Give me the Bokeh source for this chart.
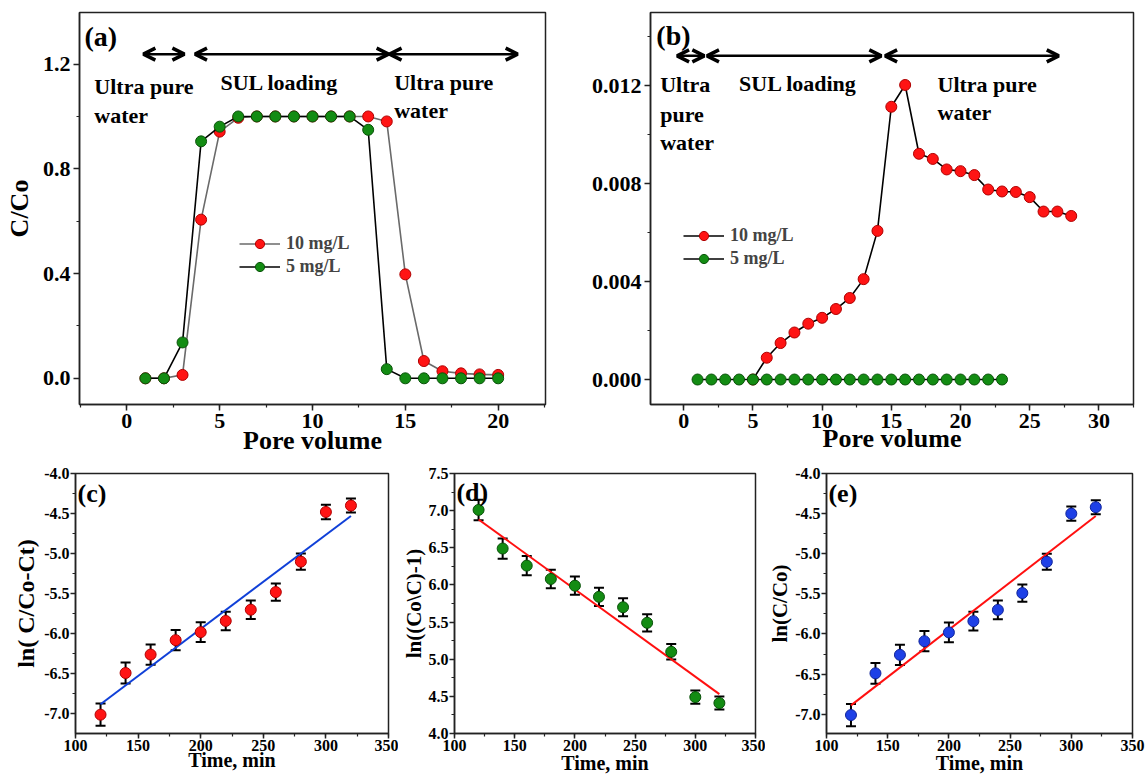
from bokeh.plotting import figure
from bokeh.layouts import row, column
from bokeh.models import (Range1d, Label, Arrow, OpenHead, TeeHead, Legend, LegendItem,
                          Whisker, ColumnDataSource, SingleIntervalTicker, NumeralTickFormatter)
from bokeh.embed import file_html
from bokeh.resources import INLINE

FONT = "Liberation Serif"

# ---------------- data ----------------
pore_a = [1, 2, 3, 4, 5, 6, 7, 8, 9, 10, 11, 12, 13, 14, 15, 16, 17, 18, 19, 20]
a_10mg = [0.0, 0.0, 0.013, 0.606, 0.942, 0.995, 1.0, 1.0, 1.0, 1.0, 1.0, 1.0, 1.0, 0.981,
          0.397, 0.066, 0.027, 0.019, 0.015, 0.013]
a_5mg = [0.0, 0.0, 0.137, 0.905, 0.961, 1.0, 1.0, 1.0, 1.0, 1.0, 1.0, 1.0, 0.949, 0.035,
         0.0, 0.0, 0.0, 0.0, 0.0, 0.0]

pore_b_10 = [5, 6, 7, 8, 9, 10, 11, 12, 13, 14, 15, 16, 17, 18, 19, 20, 21, 22, 23, 24, 25, 26, 27, 28]
b_10mg = [0.0, 0.00089, 0.00149, 0.00192, 0.00228, 0.00252, 0.00288, 0.00333, 0.00410, 0.00607,
          0.01114, 0.01203, 0.00922, 0.00901, 0.00858, 0.00851, 0.00835, 0.00776, 0.00768,
          0.00766, 0.00745, 0.00686, 0.00686, 0.00668]
pore_b_5 = [1, 2, 3, 4, 5, 6, 7, 8, 9, 10, 11, 12, 13, 14, 15, 16, 17, 18, 19, 20, 21, 22, 23]
b_5mg = [0.0, 0.0, 0.0, 0.0, 0.0, 0.0, 0.0, 0.0, 0.0, 0.0, 0.0, 0.0, 0.0, 0.0, 0.0, 0.0,
         0.0, 0.0, 0.0, 0.0, 0.0, 0.0, 0.0]

time_min = [120, 140, 160, 180, 200, 220, 240, 260, 280, 300, 320]
c_val = [-7.01, -6.49, -6.26, -6.08, -5.98, -5.84, -5.70, -5.48, -5.10, -4.48, -4.40]
c_err = [0.139, 0.13, 0.126, 0.126, 0.122, 0.116, 0.116, 0.108, 0.10, 0.09, 0.088]
d_val = [7.01, 6.49, 6.26, 6.08, 5.99, 5.84, 5.70, 5.49, 5.10, 4.49, 4.41]
d_err = [0.138, 0.136, 0.13, 0.125, 0.123, 0.123, 0.12, 0.116, 0.105, 0.09, 0.088]
e_val = [-7.01, -6.49, -6.26, -6.09, -5.98, -5.84, -5.70, -5.49, -5.10, -4.50, -4.42]
e_err = [0.139, 0.13, 0.126, 0.126, 0.122, 0.116, 0.116, 0.108, 0.10, 0.09, 0.088]

fit_time = [120, 320]
c_fit = [-6.88, -4.53]
d_fit = [6.88, 4.53]
e_fit = [-6.89, -4.53]

RED, RED_EDGE = "#ff1414", "#b00000"
GREEN, GREEN_EDGE = "#138c13", "#0a520a"
BLUE, BLUE_EDGE = "#1e40e6", "#10249a"


def make_fig(w, h, bl, br, bt, bb, xr, yr, xint, yint, yfmt, tick_px,
             tick_out=6, lab_standoff=3):
    p = figure(width=w, height=h, x_range=Range1d(*xr), y_range=Range1d(*yr),
               output_backend="svg", toolbar_location=None,
               min_border_left=bl, min_border_right=br, min_border_top=bt, min_border_bottom=bb)
    p.xgrid.visible = False
    p.ygrid.visible = False
    p.outline_line_color = "#222222"
    p.outline_line_width = 1.5
    p.background_fill_color = "white"
    p.border_fill_color = "white"
    p.xaxis[0].ticker = SingleIntervalTicker(interval=xint, num_minor_ticks=2)
    p.yaxis[0].ticker = SingleIntervalTicker(interval=yint, num_minor_ticks=2)
    p.yaxis[0].formatter = NumeralTickFormatter(format=yfmt)
    p.xaxis[0].formatter = NumeralTickFormatter(format="0")
    for ax in (p.xaxis[0], p.yaxis[0]):
        ax.axis_line_color = "#222222"
        ax.axis_line_width = 1.5
        ax.major_tick_line_color = "#222222"
        ax.minor_tick_line_color = "#222222"
        ax.major_tick_line_width = 1.5
        ax.minor_tick_line_width = 1.2
        ax.major_tick_in = 0
        ax.major_tick_out = tick_out
        ax.minor_tick_in = 0
        ax.minor_tick_out = 3
        ax.major_label_text_font = FONT
        ax.major_label_text_font_style = "bold"
        ax.major_label_text_font_size = f"{tick_px}px"
        ax.major_label_text_color = "black"
        ax.major_label_standoff = lab_standoff
        ax.axis_label_text_font = FONT
        ax.axis_label_text_font_style = "bold"
        ax.axis_label_text_color = "black"
    return p


def add_text(p, x, y, txt, size, baseline="alphabetic"):
    p.add_layout(Label(x=x, y=y, text=txt, text_font=FONT, text_font_style="bold",
                       text_font_size=f"{size}px", text_color="black", text_baseline=baseline))


def add_arrow(p, x0, x1, y):
    p.add_layout(Arrow(x_start=x0, y_start=y, x_end=x1, y_end=y, line_width=2.5, line_color="black",
                       start=OpenHead(size=12, line_width=3.5, line_color="black"),
                       end=OpenHead(size=12, line_width=3.5, line_color="black")))


def style_legend(leg, x, y, gw):
    leg.location = (x, y)
    leg.margin = 0
    leg.padding = 0
    leg.spacing = 0
    leg.glyph_width = gw
    leg.glyph_height = 23
    leg.label_height = 23
    leg.label_standoff = 6
    leg.label_text_font = FONT
    leg.label_text_font_style = "bold"
    leg.label_text_font_size = "18px"
    leg.border_line_alpha = 0
    leg.background_fill_alpha = 0


TOP_H = 461
BOT_H = 780 - TOP_H

# ---------------- panel (a) ----------------
pa = make_fig(572, TOP_H, 79, 27, 12, 57, (-2.55, 22.55), (-0.1, 1.397), 5, 0.4, "0.0", 22)
pa.xaxis.axis_label = "Pore volume"
pa.yaxis.axis_label = "C/Co"
pa.xaxis.axis_label_text_font_size = "26px"
pa.yaxis.axis_label_text_font_size = "26px"
pa.xaxis.axis_label_standoff = -5
pa.yaxis.axis_label_standoff = 6
ra_l = pa.line(pore_a, a_10mg, line_color="#6a6a6a", line_width=1.6)
ra_p = pa.scatter(pore_a, a_10mg, size=11, fill_color=RED, line_color=RED_EDGE, line_width=1)
ga_l = pa.line(pore_a, a_5mg, line_color="black", line_width=1.6)
ga_p = pa.scatter(pore_a, a_5mg, size=11, fill_color=GREEN, line_color=GREEN_EDGE, line_width=1)
leg_a = Legend(items=[LegendItem(label="10 mg/L", renderers=[ra_l, ra_p]),
                      LegendItem(label="5 mg/L", renderers=[ga_l, ga_p])])
style_legend(leg_a, 160, 126, 41)
pa.add_layout(leg_a)
add_text(pa, -2.28, 1.365, "(a)", 28, "top")
add_arrow(pa, 0.89, 3.1, 1.238)
add_arrow(pa, 3.67, 14.1, 1.238)
add_arrow(pa, 14.15, 21.05, 1.238)
add_text(pa, -1.75, 1.1135, "Ultra pure", 22)
add_text(pa, -1.75, 1.003, "water", 22)
add_text(pa, 5.04, 1.13, "SUL loading", 22)
add_text(pa, 14.4, 1.13, "Ultra pure", 22)
add_text(pa, 14.4, 1.022, "water", 22)

# ---------------- panel (b) ----------------
pb = make_fig(574, TOP_H, 78, 13, 10, 55, (-2.4, 32.5), (-0.00102, 0.01499), 5, 0.004, "0.000", 22)
pb.xaxis.axis_label = "Pore volume"
pb.xaxis.axis_label_text_font_size = "26px"
pb.xaxis.axis_label_standoff = -7
rb_l = pb.line(pore_b_10, b_10mg, line_color="black", line_width=1.6)
rb_p = pb.scatter(pore_b_10, b_10mg, size=11, fill_color=RED, line_color=RED_EDGE, line_width=1)
gb_l = pb.line(pore_b_5, b_5mg, line_color="black", line_width=1.6)
gb_p = pb.scatter(pore_b_5, b_5mg, size=11, fill_color=GREEN, line_color=GREEN_EDGE, line_width=1)
leg_b = Legend(items=[LegendItem(label="10 mg/L", renderers=[rb_l, rb_p]),
                      LegendItem(label="5 mg/L", renderers=[gb_l, gb_p])])
style_legend(leg_b, 33, 134, 41)
pb.add_layout(leg_b)
add_text(pb, -1.98, 0.0147, "(b)", 28, "top")
add_arrow(pb, -0.48, 1.49, 0.01322)
add_arrow(pb, 1.68, 14.28, 0.01322)
add_arrow(pb, 14.55, 27.1, 0.01322)
add_text(pb, -1.7, 0.01204, "Ultra", 22)
add_text(pb, -1.7, 0.01083, "pure", 22)
add_text(pb, -1.7, 0.00969, "water", 22)
add_text(pb, 4.0, 0.0121, "SUL loading", 22)
add_text(pb, 18.34, 0.01204, "Ultra pure", 22)
add_text(pb, 18.34, 0.0109, "water", 22)


# ---------------- bottom panels ----------------
def kinetic(w, bl, br, bt, bb, yr, vals, errs, fit, fit_color, color, edge, ylabel, ysize, tag, tag_y,
            xstand, ystand):
    p = make_fig(w, BOT_H, bl, br, bt, bb, (100, 350), yr, 50, 0.5, "0.0", 16,
                 tick_out=5, lab_standoff=1)
    p.xaxis.axis_label = "Time, min"
    p.yaxis.axis_label = ylabel
    p.xaxis.axis_label_text_font_size = "20px"
    p.yaxis.axis_label_text_font_size = f"{ysize}px"
    p.xaxis.axis_label_standoff = xstand
    p.yaxis.axis_label_standoff = ystand
    lo = [v - e for v, e in zip(vals, errs)]
    hi = [v + e for v, e in zip(vals, errs)]
    src = ColumnDataSource(dict(x=time_min, y=vals, lower=lo, upper=hi))
    wk = Whisker(base="x", lower="lower", upper="upper", source=src, line_color="black",
                 line_width=2, level="underlay",
                 upper_head=TeeHead(size=10, line_width=2, line_color="black"),
                 lower_head=TeeHead(size=10, line_width=2, line_color="black"))
    p.add_layout(wk)
    p.line(fit_time, fit, line_color=fit_color, line_width=2)
    p.scatter("x", "y", source=src, size=11, fill_color=color, line_color=edge, line_width=1)
    add_text(p, 101.6, tag_y, tag, 26, "top")
    return p


pc = kinetic(398, 75, 10, 12, 42, (-7.245, -4.0), c_val, c_err, c_fit, "#1040d8", RED, RED_EDGE,
             "ln( C/Co-Ct)", 24, "(c)", -4.07, -5, 2)
pd = kinetic(367, 48, 10, 10, 44, (4.0, 7.5), d_val, d_err, d_fit, "#ff1010", GREEN, GREEN_EDGE,
             "ln((Co\\C)-1)", 21, "(d)", 7.44, -2, 0)
pe = kinetic(381, 53, 14, 9, 47, (-7.24, -4.0), e_val, e_err, e_fit, "#ff1010", BLUE, BLUE_EDGE,
             "ln(C/Co)", 21, "(e)", -4.07, -2, 0)

layout = column(row(pa, pb), row(pc, pd, pe))
open("out.html", "w").write(file_html(layout, INLINE))
